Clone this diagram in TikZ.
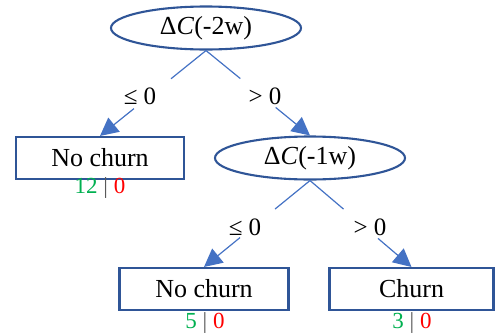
\documentclass[tikz,border=0pt]{standalone}
\usepackage{fontspec}
\setmainfont{Liberation Serif}
\usetikzlibrary{shapes.geometric,arrows.meta,calc}
\definecolor{edgeblue}{HTML}{4472C4}
\definecolor{frameblue}{HTML}{2F5597}
\definecolor{yesgreen}{HTML}{00B050}
\definecolor{nored}{HTML}{FF0000}
\definecolor{bargray}{HTML}{595959}
\tikzset{
  splitnode/.style={ellipse,draw=frameblue,line width=2.1pt,inner sep=0pt,
    minimum width=190pt,minimum height=43pt,font=\fontsize{26}{30}\selectfont},
  leafnode/.style={rectangle,draw=frameblue,line width=2.1pt,inner sep=0pt,
    minimum height=42pt,font=\fontsize{26}{30}\selectfont},
  edgelabel/.style={inner sep=0pt,font=\fontsize{25}{29}\selectfont},
  countlabel/.style={inner sep=0pt,font=\fontsize{23}{27}\selectfont},
  edgeline/.style={draw=edgeblue,line width=1.2pt},
  edgearrow/.style={draw=edgeblue,line width=1.2pt,
    -{Triangle[length=18pt,width=18pt,fill=edgeblue]}},
}
\newcommand{\counts}[2]{\textcolor{yesgreen}{#1} \textcolor{bargray}{|} \textcolor{nored}{#2}}
\begin{document}
\begin{tikzpicture}[x=1pt,y=-1pt]
  \useasboundingbox (0,0) rectangle (495,335);

  % split and leaf nodes
  \node[splitnode] (root) at (206,28) {Δ\textit{C}(-2w)};
  \node[leafnode,minimum width=168pt] (leafA) at (100,158) {No churn};
  \node[splitnode] (inner) at (310,158) {Δ\textit{C}(-1w)};
  \node[leafnode,minimum width=169pt] (leafB) at (204,289) {No churn};
  \node[leafnode,minimum width=164pt] (leafC) at (411.5,289) {Churn};

  % class counts under the leaves
  \node[countlabel] (cntA) at (100,188) {\counts{12}{0}};
  \node[countlabel] (cntB) at (205,323) {\counts{5}{0}};
  \node[countlabel] (cntC) at (412,323) {\counts{3}{0}};

  % branch conditions
  \node[edgelabel] (condA) at (140,96) {≤ 0};
  \node[edgelabel] (condB) at (265,96) {> 0};
  \node[edgelabel] (condC) at (245,227) {≤ 0};
  \node[edgelabel] (condD) at (370,227) {> 0};

  % branches: a short stub from the split, then an arrow into the child
  \draw[edgeline] (root.south) -- ($(root.south)!0.33!(leafA.north)$);
  \draw[edgearrow] ($(root.south)!0.68!(leafA.north)$) -- (leafA.north);
  \draw[edgeline] (root.south) -- ($(root.south)!0.33!(inner.north)$);
  \draw[edgearrow] ($(root.south)!0.67!(inner.north)$) -- (inner.north);
  \draw[edgeline] (inner.south) -- ($(inner.south)!0.33!(leafB.north)$);
  \draw[edgearrow] ($(inner.south)!0.66!(leafB.north)$) -- (leafB.north);
  \draw[edgeline] (inner.south) -- ($(inner.south)!0.33!(leafC.north)$);
  \draw[edgearrow] ($(inner.south)!0.67!(leafC.north)$) -- (leafC.north);
\end{tikzpicture}
\end{document}
